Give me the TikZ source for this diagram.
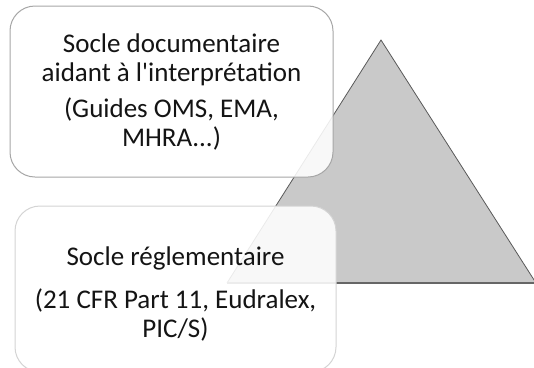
\documentclass[tikz,border=0pt]{standalone}
\usepackage{fontspec}
\setmainfont{Carlito}[Ligatures=TeXOff]
\begin{document}
\begin{tikzpicture}[x=1pt,y=-1pt,
  tri/.style={fill=black!21, draw=black!65, line width=0.8pt, line join=miter},
  basestroke/.style={draw=black!60, line width=1.6pt},
  boxa/.style={draw=black!35, line width=1pt, fill=white, fill opacity=0.88, rounded corners=25pt, minimum width=323pt, minimum height=171pt, inner sep=0pt},
  boxb/.style={draw=black!17, line width=1pt, fill=white, fill opacity=0.88, rounded corners=25pt, minimum width=321pt, minimum height=166pt, inner sep=0pt},
  txt/.style={anchor=base, font=\fontsize{27}{29}\selectfont, text=black!92, inner sep=0pt}]
\useasboundingbox (0,0) rectangle (534,367);
\coordinate (apex) at (381,40);
\coordinate (bl) at (227,283);
\coordinate (br) at (536,283);
\fill[tri, draw=none] (bl) -- (apex) -- (br) -- cycle;
\draw[tri, fill=none] (bl) -- (apex) -- (br);
\draw[basestroke] (bl) -- (br);
\node[boxa] (b1) at (171.5,91.5) {};
\node[boxb] (b2) at (175.5,289) {};
\node[txt] (t1) at (171.5,52) {Socle documentaire};
\node[txt] (t2) at (171.5,81) {aidant à l'interprétation};
\node[txt] (t3) at (171.5,117) {(Guides OMS, EMA,};
\node[txt] (t4) at (171.5,146) {MHRA...)};
\node[txt] (t5) at (175.5,265) {Socle réglementaire};
\node[txt] (t6) at (175.5,308) {(21 CFR Part 11, Eudralex,};
\node[txt] (t7) at (175.5,337) {PIC/S)};
\end{tikzpicture}
\end{document}
